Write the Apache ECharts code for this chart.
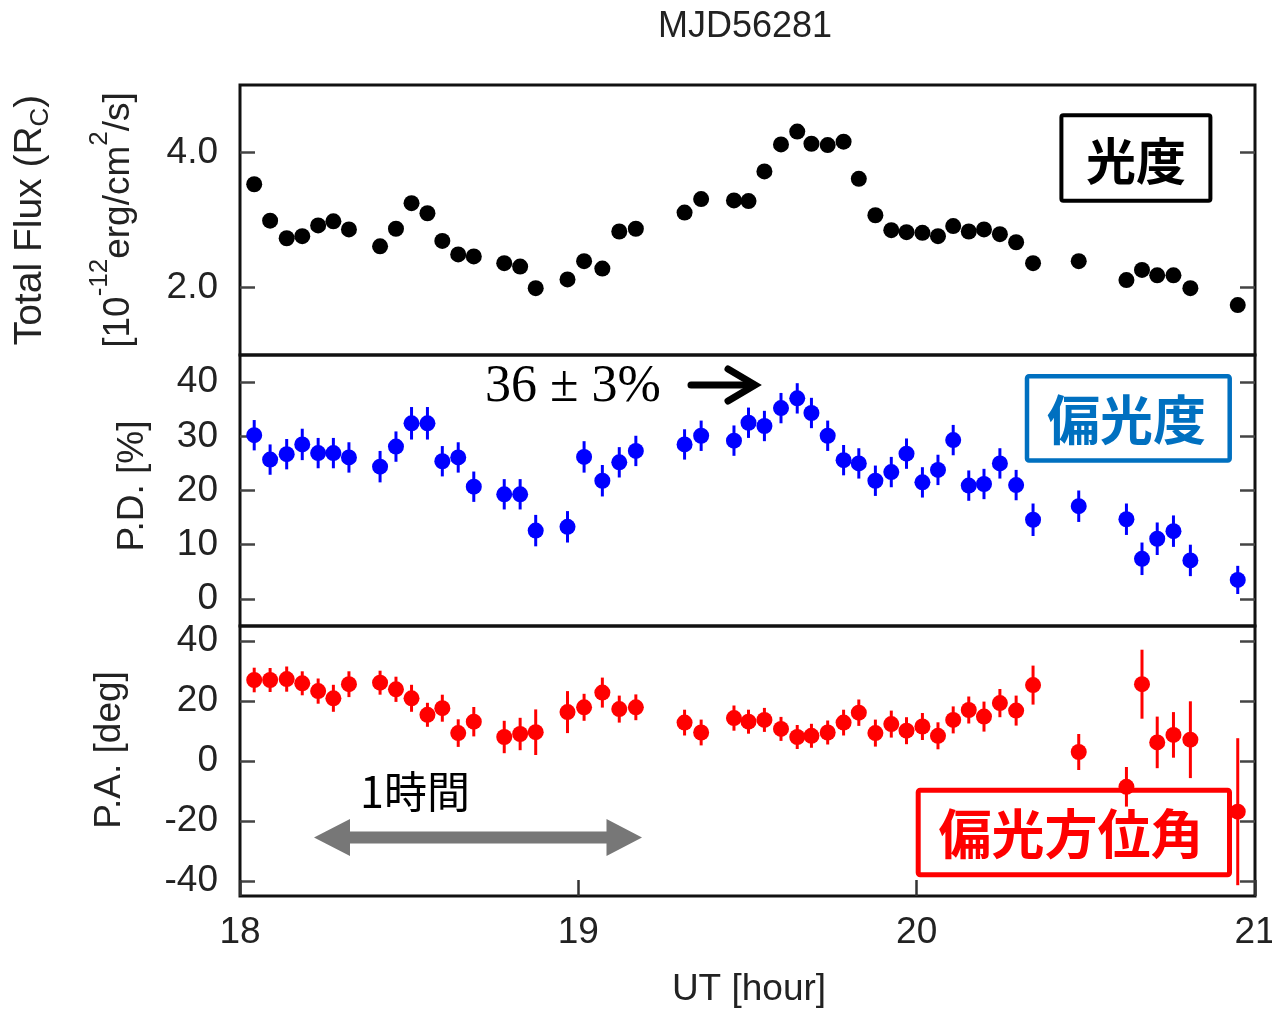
<!DOCTYPE html>
<html>
<head>
<meta charset="utf-8">
<script src="https://cdn.jsdelivr.net/npm/echarts@6/dist/echarts.min.js"></script>
<style>html,body{margin:0;padding:0;background:#fff}#c{width:1272px;height:1011px}</style>
</head>
<body>
<div id="c"></div>
<script>
// ---- data ----
const times = [18.042, 18.089, 18.138, 18.184, 18.231, 18.276, 18.322, 18.414, 18.461, 18.507,
  18.554, 18.598, 18.645, 18.691, 18.781, 18.828, 18.874, 18.968, 19.017, 19.071,
  19.121, 19.170, 19.314, 19.363, 19.460, 19.503, 19.550, 19.599, 19.647, 19.689,
  19.737, 19.784, 19.829, 19.878, 19.925, 19.970, 20.017, 20.063, 20.108, 20.154,
  20.199, 20.246, 20.294, 20.344, 20.479, 20.620, 20.666, 20.711, 20.759, 20.809, 20.949];
const flux = [3.53, 2.99, 2.73, 2.76, 2.92, 2.98, 2.86, 2.61, 2.87, 3.25,
  3.10, 2.69, 2.49, 2.46, 2.36, 2.31, 1.99, 2.12, 2.39, 2.28,
  2.83, 2.87, 3.11, 3.31, 3.29, 3.28, 3.72, 4.12, 4.31, 4.13,
  4.11, 4.16, 3.61, 3.07, 2.85, 2.82, 2.81, 2.76, 2.91, 2.83,
  2.86, 2.79, 2.67, 2.36, 2.39, 2.11, 2.26, 2.18, 2.18, 1.99, 1.74];
const pd = [30.2, 25.7, 26.7, 28.5, 26.9, 26.9, 26.1, 24.4, 28.1, 32.4,
  32.4, 25.4, 26.1, 20.7, 19.3, 19.3, 12.6, 13.3, 26.2, 21.8,
  25.2, 27.3, 28.5, 30.1, 29.2, 32.5, 31.9, 35.2, 37.0, 34.3,
  30.1, 25.6, 25.0, 21.8, 23.4, 26.8, 21.5, 23.8, 29.3, 20.9,
  21.2, 25.0, 21.0, 14.6, 17.1, 14.7, 7.4, 11.1, 12.5, 7.1, 3.5];
const pdErr = [2.8, 2.8, 2.8, 2.9, 2.8, 2.8, 2.8, 2.9, 2.8, 3.0,
  3.0, 2.8, 2.8, 2.8, 2.8, 2.8, 2.9, 2.9, 2.9, 2.9,
  2.8, 2.8, 2.8, 2.8, 2.8, 2.8, 2.8, 2.8, 2.8, 2.8,
  2.8, 2.8, 2.8, 2.8, 2.8, 2.8, 2.8, 2.8, 2.8, 2.8,
  2.8, 2.8, 2.8, 3.0, 2.9, 2.9, 3.0, 3.0, 2.9, 2.9, 2.6];
const pa = [27.0, 27.0, 27.3, 25.9, 23.3, 20.9, 25.6, 26.1, 23.9, 20.9,
  15.4, 17.6, 9.3, 13.1, 8.0, 9.0, 9.6, 16.3, 17.9, 22.8,
  17.3, 17.9, 12.8, 9.5, 14.3, 13.1, 13.7, 10.7, 8.0, 8.4,
  9.5, 12.8, 16.1, 9.3, 12.3, 10.1, 11.5, 8.4, 13.7, 17.0,
  14.8, 19.3, 16.8, 25.3, 3.0, -8.6, 25.6, 6.2, 8.7, 7.1, -16.9];
const paErr = [4.1, 4.0, 4.2, 4.0, 4.2, 4.5, 4.3, 4.0, 4.2, 4.5,
  4.0, 4.5, 4.6, 4.9, 5.4, 5.4, 7.6, 7.0, 4.5, 5.0,
  4.5, 4.3, 4.3, 4.3, 4.2, 4.0, 4.0, 4.0, 4.0, 4.0,
  4.0, 4.3, 4.4, 4.5, 4.5, 4.5, 4.5, 4.5, 4.5, 4.5,
  5.0, 4.7, 5.0, 6.5, 6.0, 6.6, 11.5, 8.6, 7.6, 12.8, 24.5];
const xTicks = [18, 19, 20, 21];
const fluxTicks = [2, 4];
const pdTicks = [0, 10, 20, 30, 40];
const paTicks = [-40, -20, 0, 20, 40];

// ---- chart ----
const SANS = '"Liberation Sans", Arial, Helvetica, sans-serif';
const CJK = '"Noto Sans CJK JP", "Noto Sans CJK SC", sans-serif';
const FS = 37;
const chart = echarts.init(document.getElementById('c'), null, {renderer: 'canvas'});

const gridDefs = [[85, 270], [355, 271], [626, 270]];
const grids = gridDefs.map(g => ({
  left: 240, right: 17, top: g[0], height: g[1], outerBoundsMode: 'none', containLabel: false,
  show: true, borderColor: '#111', borderWidth: 3, backgroundColor: 'transparent'
}));

function xAxis(i) {
  const bottom = i === 2;
  return {
    type: 'value', gridIndex: i, min: 18, max: 21, interval: 1, position: 'bottom',
    axisLine: {show: false, onZero: false}, splitLine: {show: false},
    axisTick: {show: bottom, inside: true, length: 16, customValues: xTicks, lineStyle: {color: '#333', width: 2.5}},
    axisLabel: {show: bottom, customValues: xTicks, fontSize: FS, color: '#222', fontFamily: SANS, margin: 18, showMinLabel: true, showMaxLabel: true}
  };
}
function yAxes(i, min, max, ticks, fmt) {
  const tick = {show: true, inside: true, length: 15, customValues: ticks, lineStyle: {color: '#444', width: 2.5}};
  return [
    {type: 'value', gridIndex: i, position: 'left', min: min, max: max,
      axisLine: {show: false, onZero: false}, splitLine: {show: false}, axisTick: tick,
      axisLabel: {show: true, customValues: ticks, formatter: fmt, fontSize: FS, color: '#222', fontFamily: SANS, margin: 22}},
    {type: 'value', gridIndex: i, position: 'right', min: min, max: max,
      axisLine: {show: false, onZero: false}, splitLine: {show: false}, axisTick: tick,
      axisLabel: {show: false}}
  ];
}

function errRender(color) {
  return function (params, api) {
    const t = api.value(0), v = api.value(1), e = api.value(2);
    const p = api.coord([t, v]);
    const lo = api.coord([t, v - e]);
    const hi = api.coord([t, v + e]);
    return {
      type: 'group',
      children: [
        {type: 'line', shape: {x1: lo[0], y1: lo[1], x2: hi[0], y2: hi[1]}, style: {stroke: color, lineWidth: 3}},
        {type: 'circle', shape: {cx: p[0], cy: p[1], r: 8}, style: {fill: color}}
      ]
    };
  };
}

const fluxData = times.map((t, i) => [t, flux[i]]);
const pdData = times.map((t, i) => [t, pd[i], pdErr[i]]);
const paData = times.map((t, i) => [t, pa[i], paErr[i]]);

const option = {
  animation: false,
  backgroundColor: '#fff',
  grid: grids,
  xAxis: [xAxis(0), xAxis(1), xAxis(2)],
  yAxis: [
    ...yAxes(0, 1, 5, fluxTicks, v => v.toFixed(1)),
    ...yAxes(1, -5, 45, pdTicks, v => String(v)),
    ...yAxes(2, -45, 45, paTicks, v => String(v))
  ],
  series: [
    {type: 'scatter', xAxisIndex: 0, yAxisIndex: 0, data: fluxData, symbol: 'circle', symbolSize: 16,
      itemStyle: {color: '#000', opacity: 1}, z: 5},
    {type: 'custom', xAxisIndex: 1, yAxisIndex: 2, data: pdData, encode: {x: 0, y: 1},
      renderItem: errRender('#0000FF'), z: 5},
    {type: 'custom', xAxisIndex: 2, yAxisIndex: 4, data: paData, encode: {x: 0, y: 1},
      renderItem: errRender('#FF0000'), z: 5}
  ],
  graphic: [
    // title
    {type: 'text', x: 745, y: 27, style: {text: 'MJD56281', fontSize: 36, fontFamily: SANS, fill: '#222', align: 'center', verticalAlign: 'middle'}},
    // x axis name
    {type: 'text', x: 749, y: 990, style: {text: 'UT [hour]', fontSize: FS, fontFamily: SANS, fill: '#222', align: 'center', verticalAlign: 'middle'}},
    // y axis names
    {type: 'text', x: 30, y: 220, rotation: Math.PI / 2,
      style: {text: '{a|Total Flux (R}{s|C}{a|)}', align: 'center', verticalAlign: 'middle', fill: '#222',
        rich: {a: {fontSize: 39, fontFamily: SANS, fill: '#222', lineHeight: 48, verticalAlign: 'middle'},
               s: {fontSize: 26, fontFamily: SANS, fill: '#222', verticalAlign: 'bottom'}}}},
    {type: 'text', x: 112, y: 220, rotation: Math.PI / 2,
      style: {text: '{a|[10}{p|-12}{a|erg/cm}{p|2}{a|/s]}', align: 'center', verticalAlign: 'middle', fill: '#222',
        rich: {a: {fontSize: 37, fontFamily: SANS, fill: '#222', lineHeight: 50, verticalAlign: 'bottom'},
               p: {fontSize: 26, fontFamily: SANS, fill: '#222', verticalAlign: 'top'}}}},
    {type: 'text', x: 133, y: 486, rotation: Math.PI / 2,
      style: {text: 'P.D. [%]', fontSize: FS, fontFamily: SANS, fill: '#222', align: 'center', verticalAlign: 'middle'}},
    {type: 'text', x: 110, y: 750, rotation: Math.PI / 2,
      style: {text: 'P.A. [deg]', fontSize: FS, fontFamily: SANS, fill: '#222', align: 'center', verticalAlign: 'middle'}},
    // 36 ± 3% annotation
    {type: 'text', x: 573, y: 387, style: {text: '36 ± 3%', fontSize: 52, fontFamily: '"Liberation Serif", "DejaVu Serif", serif', fill: '#000', align: 'center', verticalAlign: 'middle'}},
    {type: 'line', shape: {x1: 691, y1: 385, x2: 752, y2: 385}, style: {stroke: '#000', lineWidth: 7, lineCap: 'round'}},
    {type: 'polyline', shape: {points: [[728, 369], [755, 385], [728, 401]]}, style: {stroke: '#000', lineWidth: 7, lineCap: 'round', lineJoin: 'miter', fill: null}},
    // label boxes
    {type: 'rect', shape: {x: 1061.4, y: 115.3, width: 149, height: 85.4, r: 2}, style: {stroke: '#000', lineWidth: 4, fill: null}, z: 1},
    {type: 'text', x: 1136, y: 161, style: {text: '光度', fontSize: 50, fontWeight: 'bold', fontFamily: CJK, fill: '#000', align: 'center', verticalAlign: 'middle'}},
    {type: 'rect', shape: {x: 1027, y: 376.2, width: 202.7, height: 84.2, r: 2}, style: {stroke: '#0070C0', lineWidth: 4.5, fill: null}, z: 1},
    {type: 'text', x: 1126.5, y: 420, style: {text: '偏光度', fontSize: 53, fontWeight: 'bold', fontFamily: CJK, fill: '#0070C0', align: 'center', verticalAlign: 'middle'}},
    {type: 'rect', shape: {x: 918.2, y: 790.2, width: 311.3, height: 84.6, r: 2}, style: {stroke: '#FF0000', lineWidth: 5, fill: null}, z: 1},
    {type: 'text', x: 1071, y: 834, style: {text: '偏光方位角', fontSize: 53, fontWeight: 'bold', fontFamily: CJK, fill: '#FF0000', align: 'center', verticalAlign: 'middle'}},
    // 1 hour scale arrow
    {type: 'text', x: 415, y: 792, style: {text: '1時間', fontSize: 43, fontFamily: CJK, fill: '#000', align: 'center', verticalAlign: 'middle'}},
    {type: 'polygon', shape: {points: [[314, 837.5], [350, 819], [350, 831.5], [606.5, 831.5], [606.5, 819], [642, 837.5],
      [606.5, 856], [606.5, 843.5], [350, 843.5], [350, 856]]}, style: {fill: '#777'}}
  ]
};
chart.setOption(option);
</script>
</body>
</html>
